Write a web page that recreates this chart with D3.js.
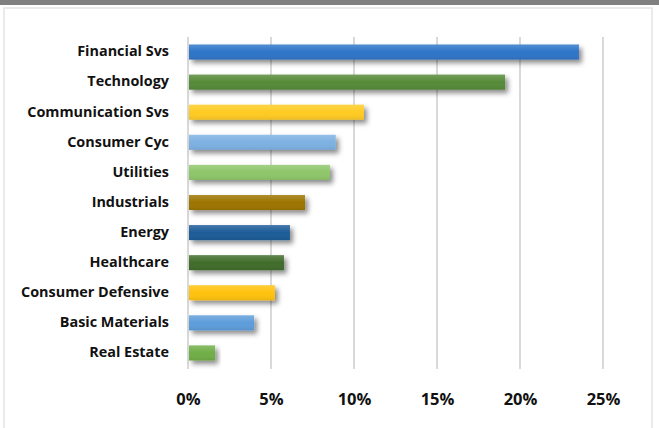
<!DOCTYPE html>
<html><head><meta charset="utf-8">
<script src="https://cdn.jsdelivr.net/npm/d3@7"></script>
<style>body{margin:0;background:#fff;}svg{display:block;}</style>
</head><body>
<script>
const categories = ["Financial Svs","Technology","Communication Svs","Consumer Cyc","Utilities","Industrials","Energy","Healthcare","Consumer Defensive","Basic Materials","Real Estate"];
const values = [23.55,19.1,10.6,8.9,8.55,7.05,6.14,5.78,5.24,3.98,1.63];
const colors = ["#2e75c8","#578a38","#ffcb22","#7db1e2","#8ec66b","#9c7406","#1f5b98","#416c2a","#ffc20a","#5d9ddb","#6fae46"];
const tickValues = [0,5,10,15,20,25];

const W=659,H=428;
const svg=d3.select("body").append("svg").attr("width",W).attr("height",H);
const defs=svg.append("defs");
const f=defs.append("filter").attr("id","sh").attr("x","-10%").attr("y","-60%").attr("width","130%").attr("height","270%");
f.append("feDropShadow").attr("dx",3).attr("dy",3.5).attr("stdDeviation",2.6).attr("flood-color","#000").attr("flood-opacity",0.45);
const g=defs.append("linearGradient").attr("id","gl").attr("x1",0).attr("y1",0).attr("x2",0).attr("y2",1);
g.append("stop").attr("offset","0%").attr("stop-color","#fff").attr("stop-opacity",0.18);
g.append("stop").attr("offset","50%").attr("stop-color","#fff").attr("stop-opacity",0);
g.append("stop").attr("offset","100%").attr("stop-color","#000").attr("stop-opacity",0.08);

svg.append("rect").attr("x",0).attr("y",0).attr("width",W).attr("height",5).attr("fill","#808080");
svg.append("rect").attr("x",4).attr("y",8).attr("width",648).attr("height",430).attr("fill","#fff").attr("stroke","#e3e3e3").attr("stroke-width",1.5);

const x=d3.scaleLinear().domain([0,25]).range([188,603]);
const y=d3.scaleBand().domain(categories).range([37,368]).paddingInner(0.5).paddingOuter(0.25);

svg.append("g").selectAll("line").data(tickValues).join("line")
 .attr("x1",d=>x(d)).attr("x2",d=>x(d)).attr("y1",37).attr("y2",369)
 .attr("stroke","#d9d9d9").attr("stroke-width",2);

const bars=svg.append("g").selectAll("g").data(categories).join("g");
bars.append("rect").attr("x",x(0)+1).attr("y",d=>y(d)).attr("height",y.bandwidth())
 .attr("width",(d,i)=>x(values[i])-x(0)-1).attr("fill",(d,i)=>colors[i]).attr("filter","url(#sh)");
bars.append("rect").attr("x",x(0)+1).attr("y",d=>y(d)).attr("height",y.bandwidth())
 .attr("width",(d,i)=>x(values[i])-x(0)-1).attr("fill","url(#gl)");

const yAxis=d3.axisLeft(y).tickSize(0).tickPadding(0);
const ya=svg.append("g").attr("transform","translate(169,0)").call(yAxis);
ya.select(".domain").remove();
ya.selectAll("text").attr("font-family","Open Sans").attr("font-weight",700).attr("font-size","14.4px").attr("fill","#111").attr("dy","0.3em");

const xAxis=d3.axisBottom(x).tickValues(tickValues).tickFormat(d=>d+"%").tickSize(0).tickPadding(0);
const xa=svg.append("g").attr("transform","translate(0,393)").call(xAxis);
xa.select(".domain").remove();
xa.selectAll("text").attr("font-family","Open Sans").attr("font-weight",700).attr("font-size","16.5px").attr("fill","#111");
</script>
</body></html>
